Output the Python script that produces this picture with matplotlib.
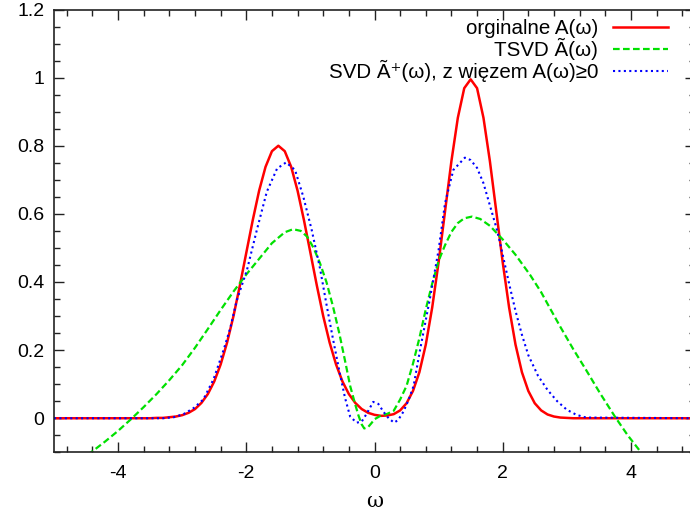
import matplotlib
matplotlib.use("Agg")
import matplotlib.pyplot as plt
from matplotlib.ticker import MultipleLocator, FormatStrFormatter

plt.rcParams['font.family'] = ['Liberation Sans', 'DejaVu Sans']
plt.rcParams['axes.unicode_minus'] = False

# original A(w)
w_orig = [-5.0, -3.5, -3.4, -3.3, -3.2, -3.1, -3.0, -2.9, -2.8, -2.7, -2.6,
          -2.5, -2.4, -2.3, -2.2, -2.1, -2.0, -1.9, -1.8, -1.7, -1.6,
          -1.5, -1.4, -1.3, -1.2, -1.1, -1.0, -0.9, -0.8, -0.7, -0.6,
          -0.5, -0.4, -0.3, -0.2, -0.1, 0.0, 0.1, 0.2, 0.3, 0.4,
          0.5, 0.6, 0.7, 0.8, 0.9, 1.0, 1.1, 1.2, 1.3, 1.4,
          1.5, 1.6, 1.7, 1.8, 1.9, 2.0, 2.1, 2.2, 2.3, 2.4,
          2.5, 2.6, 2.7, 2.8, 2.9, 3.0, 3.1, 5.0]
a_orig = [0.0, 0.0, 0.001, 0.001, 0.003, 0.005, 0.009, 0.016, 0.027, 0.045, 0.071,
          0.108, 0.158, 0.222, 0.300, 0.390, 0.486, 0.581, 0.668, 0.738, 0.784,
          0.800, 0.784, 0.738, 0.668, 0.581, 0.486, 0.390, 0.300, 0.222, 0.158,
          0.108, 0.071, 0.045, 0.027, 0.016, 0.010, 0.007, 0.008, 0.012, 0.023,
          0.044, 0.080, 0.135, 0.216, 0.325, 0.458, 0.607, 0.755, 0.882, 0.969,
          0.995, 0.969, 0.882, 0.755, 0.607, 0.458, 0.325, 0.216, 0.135, 0.080,
          0.044, 0.023, 0.011, 0.005, 0.002, 0.001, 0.0, 0.0]

# TSVD
w_tsvd = [-4.6, -4.4, -4.2, -4.0, -3.8, -3.6, -3.4, -3.2, -3.0, -2.8,
          -2.6, -2.4, -2.2, -2.0, -1.8, -1.6, -1.4, -1.27, -1.15, -1.05,
          -0.95, -0.85, -0.75, -0.65, -0.55, -0.45, -0.38, -0.3, -0.25, -0.2,
          -0.16, -0.1, -0.05, 0.0, 0.1, 0.2, 0.3, 0.4, 0.5, 0.6,
          0.7, 0.8, 0.9, 1.0, 1.1, 1.2, 1.3, 1.4, 1.52, 1.65,
          1.8, 2.0, 2.2, 2.43, 2.6, 2.74, 2.9, 3.1, 3.3, 3.52,
          3.75, 3.95, 4.17, 4.4]
a_tsvd = [-0.125, -0.097, -0.068, -0.037, -0.003, 0.033, 0.071, 0.112, 0.156, 0.207,
          0.262, 0.318, 0.372, 0.422, 0.468, 0.514, 0.546, 0.555, 0.550, 0.533,
          0.500, 0.455, 0.400, 0.330, 0.250, 0.160, 0.095, 0.040, 0.008, -0.018,
          -0.030, -0.026, -0.015, -0.003, 0.008, 0.013, 0.022, 0.055, 0.095, 0.160,
          0.235, 0.320, 0.395, 0.462, 0.508, 0.547, 0.573, 0.587, 0.592, 0.585,
          0.565, 0.525, 0.480, 0.420, 0.370, 0.322, 0.268, 0.203, 0.142, 0.073,
          0.005, -0.050, -0.103, -0.160]

# SVD with A >= 0 constraint
w_svd = [-5.0, -3.3, -3.13, -2.98, -2.82, -2.67, -2.51, -2.355, -2.25, -2.15,
         -1.99, -1.835, -1.68, -1.52, -1.38, -1.24, -1.11, -0.98, -0.85, -0.75,
         -0.65, -0.55, -0.46, -0.38, -0.28, -0.2, -0.12, -0.02, 0.06, 0.14,
         0.22, 0.305, 0.37, 0.45, 0.53, 0.61, 0.71, 0.87, 1.0, 1.1,
         1.23, 1.41, 1.5, 1.6, 1.7, 1.8, 1.9, 1.95, 2.0, 2.1,
         2.2, 2.3, 2.4, 2.55, 2.7, 2.85, 3.0, 3.15, 3.3, 5.0]
a_svd = [0.0, 0.0, 0.003, 0.012, 0.03, 0.055, 0.115, 0.2, 0.265, 0.345,
         0.435, 0.553, 0.665, 0.733, 0.751, 0.729, 0.65, 0.553, 0.44, 0.335,
         0.235, 0.14, 0.06, 0.005, -0.013, -0.01, 0.014, 0.048, 0.042, 0.019,
         0.0, -0.013, -0.005, 0.019, 0.053, 0.095, 0.2, 0.357, 0.494, 0.631,
         0.729, 0.765, 0.758, 0.735, 0.69, 0.625, 0.56, 0.522, 0.48, 0.395,
         0.315, 0.245, 0.185, 0.125, 0.083, 0.05, 0.025, 0.01, 0.002, 0.0]

labels = ['orginalne A(ω)', 'TSVD Ã(ω)', 'SVD Ã⁺(ω), z więzem A(ω)≥0']

fig = plt.figure(figsize=(6.9, 5.19), dpi=100)
ax = fig.add_axes([54 / 690, 1 - 452.3 / 519, 641 / 690, 442.8 / 519])

ax.plot(w_orig, a_orig, color='#ff0000', lw=1.8, label=labels[0])
ax.plot(w_tsvd, a_tsvd, color='#00e000', lw=1.6, ls=(0, (3, 1.5)), label=labels[1])
ax.plot(w_svd, a_svd, color='#0000ff', lw=1.5, ls=(0, (1, 1.6)), label=labels[2])

ax.set_xlim(-5, 5)
ax.set_ylim(-0.1, 1.2)
ax.xaxis.set_major_locator(MultipleLocator(2))
ax.xaxis.set_minor_locator(MultipleLocator(0.4))
ax.yaxis.set_major_locator(MultipleLocator(0.2))
ax.yaxis.set_minor_locator(MultipleLocator(0.05))
ax.xaxis.set_major_formatter(FormatStrFormatter('%g'))
ax.yaxis.set_major_formatter(FormatStrFormatter('%g'))
ax.tick_params(which='both', direction='in', top=True, right=True,
               labelsize=14, colors='#222222', labelcolor='black')
ax.tick_params(which='major', length=7, width=1)
ax.tick_params(which='minor', length=4, width=1)
ax.tick_params(axis='x', pad=9)
ax.tick_params(axis='y', pad=7)
for s in ax.spines.values():
    s.set_color('#222222')
    s.set_linewidth(1.2)

ax.set_xlabel('ω', fontsize=15, family=['DejaVu Serif'], labelpad=7)

ax.legend(loc='upper right', bbox_to_anchor=(0.958, 0.978),
          markerfirst=False, frameon=False, fontsize=14.8,
          handlelength=2.7, handletextpad=0.7, labelspacing=0.0,
          borderaxespad=0, borderpad=0)

fig.savefig('out.png', dpi=100)
